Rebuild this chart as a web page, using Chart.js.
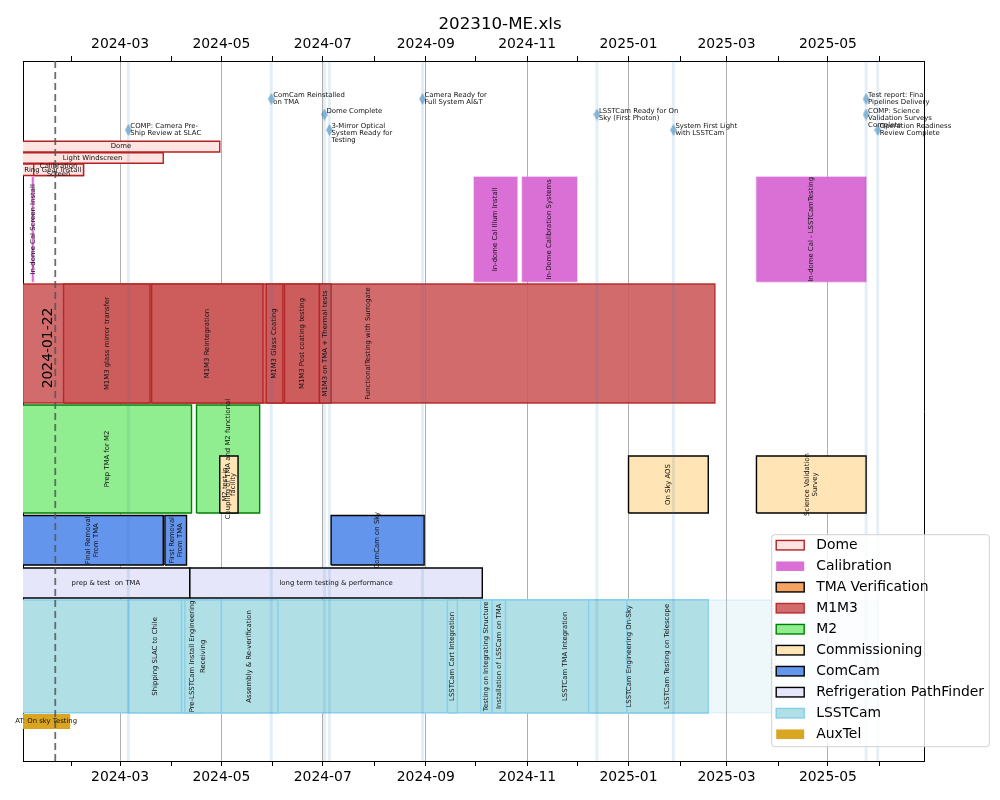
<!DOCTYPE html>
<html>
<head>
<meta charset="utf-8">
<script src="https://cdn.jsdelivr.net/npm/chart.js@4.4.1/dist/chart.umd.min.js"></script>
<style>
html,body{margin:0;padding:0;background:#ffffff;}
#wrap{width:1000px;height:800px;}
</style>
</head>
<body>
<div id="wrap"><canvas id="c" width="1000" height="800"></canvas></div>
<script>
// ---------------- DATA ----------------
const chartTitle = '202310-ME.xls';
const axisStart = '2024-01-02T14:00';
const axisEnd = '2025-06-27T20:00';
const yMin = 0, yMax = 70;

// month ticks (every month is a tick, labelled ones are the major ticks)
const monthTicks = ['2024-02','2024-03','2024-04','2024-05','2024-06','2024-07','2024-08','2024-09','2024-10','2024-11','2024-12',
                    '2025-01','2025-02','2025-03','2025-04','2025-05','2025-06'];
const majorTickLabels = ['2024-03','2024-05','2024-07','2024-09','2024-11','2025-01','2025-03','2025-05'];

const highlightDate = '2024-01-22';
const highlightLabelY = 41.3;

const groupNames = ['Dome','Calibration','TMA Verification','M1M3','M2','Commissioning','ComCam','Refrigeration PathFinder','LSSTCam','AuxTel'];

const taskNames = [
  'Dome','Light Windscreen','Ring Gear Install','Calibration\nScreen',
  'In-dome Cal Screen Install','In-dome Cal Illum Install','In-Dome Calibration Systems','In-dome Cal - LSSTCamTesting',
  'FunctionalTesting with Surrogate','M1M3 glass mirror transfer','M1M3 Reintegration','M1M3 Glass Coating','M1M3 Post coating testing','M1M3 on TMA + Thermal tests',
  'Prep TMA for M2','Coupling of TMA and M2 functional',
  'M2 test in\nfacility','On Sky AOS','Science Validation\nSurvey',
  'Final Removal\nFrom TMA','First Removal\nFrom TMA','ComCam on Sky',
  'prep & test  on TMA','long term testing & performance',
  '','Shipping SLAC to Chile','Pre-LSSTCam Install Engineering','Receiving','Assembly & Re-verification','LSSTCam Cart Integration',
  'Testing on Integrating Structure','Installation of LSSCam on TMA','LSSTCam TMA Integration','LSSTCam Engineering On-Sky','LSSTCam Testing on Telescope','LSSTCam SV',
  'AT: On sky Testing'
];
const taskGroups = [
  'Dome','Dome','Dome','Dome',
  'Calibration','Calibration','Calibration','Calibration',
  'M1M3','M1M3','M1M3','M1M3','M1M3','M1M3',
  'M2','M2',
  'Commissioning','Commissioning','Commissioning',
  'ComCam','ComCam','ComCam',
  'Refrigeration PathFinder','Refrigeration PathFinder',
  'LSSTCam','LSSTCam','LSSTCam','LSSTCam','LSSTCam','LSSTCam','LSSTCam','LSSTCam','LSSTCam','LSSTCam','LSSTCam','LSSTCam',
  'AuxTel'
];
const taskStarts = [
  '2024-01-02','2024-01-02','2024-01-02','2024-01-09',
  '2024-01-08','2024-09-30','2024-10-29','2025-03-19',
  '2024-01-02','2024-01-27','2024-03-20','2024-05-28','2024-06-08','2024-06-29',
  '2024-01-02','2024-04-16',
  '2024-04-30','2025-01-01','2025-03-19',
  '2024-01-02','2024-03-28','2024-07-06',
  '2024-01-02','2024-04-12',
  '2024-01-02','2024-03-06','2024-04-07','2024-04-09','2024-05-01','2024-09-14',
  '2024-10-04','2024-10-11','2024-10-19','2024-12-08','2024-12-31','2025-01-26',
  '2024-01-02'
];
const taskEnds = [
  '2024-04-30','2024-03-27','2024-02-08','2024-02-08',
  '2024-01-09','2024-10-26','2024-12-01','2025-05-24',
  '2025-02-22','2024-03-19','2024-05-26','2024-06-07','2024-06-29','2024-07-06',
  '2024-04-13','2024-05-24',
  '2024-05-11','2025-02-18','2025-05-24',
  '2024-03-27','2024-04-10','2024-08-31',
  '2024-04-12','2024-10-05',
  '2025-02-18','2024-04-07','2024-04-20','2024-05-01','2024-06-04','2024-09-20',
  '2024-10-11','2024-10-19','2024-12-30','2025-01-26','2025-02-18','2025-05-31',
  '2024-01-31'
];
const taskRowBottom = [
  60.9,59.77,58.55,58.55,
  47.93,47.93,47.93,47.93,
  35.8,35.8,35.8,35.8,35.8,35.8,
  24.8,24.8,
  24.8,24.8,24.8,
  19.6,19.6,19.6,
  16.3,16.3,
  4.83,4.83,4.83,4.83,4.83,4.83,4.83,4.83,4.83,4.83,4.83,4.83,
  3.2
];
const taskRowHeight = [
  1.07,1.06,1.15,1.15,
  10.47,10.47,10.47,10.47,
  11.9,11.9,11.9,11.9,11.9,11.9,
  10.8,10.8,
  5.7,5.7,5.7,
  4.95,4.95,4.95,
  3.0,3.0,
  11.27,11.27,11.27,11.27,11.27,11.27,11.27,11.27,11.27,11.27,11.27,11.27,
  1.5
];
const taskTentative = [
  false,false,false,false,
  false,false,false,false,
  false,false,false,false,false,false,
  false,false,
  false,false,false,
  false,false,false,
  false,false,
  false,false,false,false,false,false,false,false,false,false,false,true,
  false
];

const milestoneNames = [
  'COMP: Camera Pre-\nShip Review at SLAC',
  'ComCam Reinstalled\non TMA',
  'Dome Complete',
  '3-Mirror Optical\nSystem Ready for\nTesting',
  'Camera Ready for\nFull System AI&T',
  'LSSTCam Ready for On\nSky (First Photon)',
  'System First Light\nwith LSSTCam',
  'Test report: Final\nPipelines Delivery',
  'COMP: Science\nValidation Surveys\nComplete',
  'Operation Readiness\nReview Complete'
];
const milestoneDates = ['2024-03-06','2024-05-31','2024-07-02','2024-07-05','2024-08-30','2024-12-13','2025-01-28','2025-05-24','2025-05-24','2025-05-31'];
const milestoneY = [63.1,66.2,64.65,63.1,66.2,64.65,63.1,66.2,64.65,63.1];

// ---------------- STYLES ----------------
const FONT = 'DejaVu Sans';
const groupStyle = {
  'Dome':                     {fill:'#ffe4e1', edge:'#b22222', vertical:false},
  'Calibration':              {fill:'#da70d6', edge:'rgba(218,112,214,0.45)', vertical:true, noEdgeInLegend:true},
  'TMA Verification':         {fill:'#f4a460', edge:'#000000', vertical:true},
  'M1M3':                     {fill:'rgba(205,92,92,0.9)', edge:'rgba(178,34,34,0.9)', vertical:true},
  'M2':                       {fill:'#90ee90', edge:'#008000', vertical:true},
  'Commissioning':            {fill:'#ffe4b5', edge:'#000000', vertical:true},
  'ComCam':                   {fill:'#6495ed', edge:'#000000', vertical:true},
  'Refrigeration PathFinder': {fill:'#e6e6fa', edge:'#000000', vertical:false},
  'LSSTCam':                  {fill:'#b0e0e6', edge:'#87ceeb', vertical:true},
  'AuxTel':                   {fill:'#daa520', edge:'rgba(0,0,0,0)', vertical:false, noEdgeInLegend:true}
};
const tentativeFill = 'rgba(176,224,230,0.22)';
const tentativeEdge = 'rgba(135,206,235,0.2)';

// ---------------- HELPERS ----------------
function t(s){
  if (s.length === 7) s = s + '-01';
  if (s.length === 10) s = s + 'T00:00';
  return Date.parse(s + ':00Z');
}
const monthValues = monthTicks.map(t);
const majorValues = majorTickLabels.map(t);
function isMajor(v){ return majorValues.indexOf(v) >= 0; }
function monthLabel(v){
  const i = majorValues.indexOf(v);
  return i >= 0 ? majorTickLabels[i] : '';
}

// ---------------- DATASETS ----------------
const datasets = [];
taskNames.forEach((name, i) => {
  const st = groupStyle[taskGroups[i]];
  const x0 = t(taskStarts[i]), x1 = t(taskEnds[i]);
  const y0 = taskRowBottom[i], y1 = taskRowBottom[i] + taskRowHeight[i];
  datasets.push({
    type: 'line',
    label: name,
    data: [{x:x0,y:y0},{x:x1,y:y0},{x:x1,y:y1},{x:x0,y:y1},{x:x0,y:y0}],
    fill: 'shape',
    backgroundColor: taskTentative[i] ? tentativeFill : st.fill,
    borderColor: taskTentative[i] ? tentativeEdge : st.edge,
    borderWidth: 1.4,
    borderJoinStyle: 'miter',
    pointRadius: 0, pointHoverRadius: 0, pointHitRadius: 0,
    tension: 0,
    clip: 0,
    order: 1000 - i
  });
});

// milestone vertical lines
const msLineData = [];
milestoneDates.forEach(d => {
  msLineData.push({x:t(d), y:yMin}, {x:t(d), y:yMax}, {x:t(d), y:null});
});
datasets.push({
  type:'line', label:'_milestoneLines', data: msLineData,
  borderColor:'rgba(31,119,180,0.12)', borderWidth:3, fill:false,
  pointRadius:0, pointHoverRadius:0, spanGaps:false, order: 3, clip: 0
});

// highlight dashed line
datasets.push({
  type:'line', label:'_highlight',
  data:[{x:t(highlightDate), y:yMin},{x:t(highlightDate), y:yMax}],
  borderColor:'rgba(85,85,85,0.85)', borderWidth:1.8, borderDash:[7,4], fill:false,
  pointRadius:0, pointHoverRadius:0, order: 2, clip: 0
});

// milestone diamonds
function makeDiamond(){
  const c = document.createElement('canvas');
  c.width = 7; c.height = 12;
  const g = c.getContext('2d');
  g.fillStyle = 'rgba(31,119,180,0.5)';
  g.beginPath(); g.moveTo(3.5,0); g.lineTo(7,6); g.lineTo(3.5,12); g.lineTo(0,6); g.closePath(); g.fill();
  return c;
}
const diamond = makeDiamond();
datasets.push({
  type:'line', label:'_milestones',
  data: milestoneDates.map((d,i) => ({x:t(d), y:milestoneY[i]})),
  showLine:false, pointStyle: diamond, pointRadius: 5, pointHoverRadius: 5, order: 1, clip: false
});

// ---------------- PLUGINS ----------------
const labelPlugin = {
  id: 'taskLabels',
  afterDatasetsDraw(chart){
    const ctx = chart.ctx, xs = chart.scales.x, ys = chart.scales.y;
    ctx.save();
    ctx.font = '6.9px "' + FONT + '"';
    ctx.textAlign = 'center';
    ctx.textBaseline = 'middle';
    taskNames.forEach((name, i) => {
      if (!name) return;
      const st = groupStyle[taskGroups[i]];
      const cx = xs.getPixelForValue((t(taskStarts[i]) + t(taskEnds[i])) / 2);
      const cy = ys.getPixelForValue(taskRowBottom[i] + taskRowHeight[i] / 2);
      const lines = name.split('\n');
      const lh = 8;
      ctx.fillStyle = taskTentative[i] ? 'rgba(0,0,0,0.2)' : '#111';
      ctx.save();
      ctx.translate(cx, cy);
      if (st.vertical) ctx.rotate(-Math.PI / 2);
      lines.forEach((ln, k) => {
        ctx.fillText(ln, 0, (k - (lines.length - 1) / 2) * lh);
      });
      ctx.restore();
    });
    // milestone labels
    ctx.textAlign = 'left';
    ctx.fillStyle = '#111';
    milestoneNames.forEach((name, i) => {
      const px = xs.getPixelForValue(t(milestoneDates[i]));
      const py = ys.getPixelForValue(milestoneY[i]);
      name.split('\n').forEach((ln, k) => ctx.fillText(ln, px + 2, py - 3.5 + k * 7));
    });
    // highlight date label
    ctx.font = '13.9px "' + FONT + '"';
    ctx.fillStyle = '#000';
    ctx.textAlign = 'center';
    ctx.save();
    ctx.translate(xs.getPixelForValue(t(highlightDate)) - 7, ys.getPixelForValue(highlightLabelY));
    ctx.rotate(-Math.PI / 2);
    ctx.fillText(highlightDate, 0, 0);
    ctx.restore();
    ctx.restore();
  }
};

const legendPlugin = {
  id: 'boxLegend',
  afterDraw(chart){
    const ctx = chart.ctx, a = chart.chartArea;
    const w = 217.6, h = 212;
    const right = a.right + 65.3, bottom = a.bottom - 14.3;
    const left = right - w, top = bottom - h;
    ctx.save();
    ctx.beginPath();
    if (ctx.roundRect) ctx.roundRect(left, top, w, h, 3); else ctx.rect(left, top, w, h);
    ctx.fillStyle = 'rgba(255,255,255,0.8)';
    ctx.fill();
    ctx.strokeStyle = 'rgba(204,204,204,0.9)';
    ctx.lineWidth = 1;
    ctx.stroke();
    ctx.font = '13.9px "' + FONT + '"';
    ctx.textBaseline = 'middle';
    ctx.textAlign = 'left';
    groupNames.forEach((g, i) => {
      const st = groupStyle[g];
      const cy = top + 10.5 + i * 21;
      const sx = left + 4.5, sw = 28, sh = 9.5;
      ctx.fillStyle = st.fill;
      ctx.fillRect(sx, cy - sh / 2, sw, sh);
      if (!st.noEdgeInLegend) {
        ctx.strokeStyle = st.edge;
        ctx.lineWidth = 1.4;
        ctx.strokeRect(sx, cy - sh / 2, sw, sh);
      }
      ctx.fillStyle = '#000';
      ctx.fillText(g, left + 44.5, cy + 0.5);
    });
    ctx.restore();
  }
};

// ---------------- CHART ----------------
Chart.defaults.font.family = FONT;
const titleFontSize = 16.7, titlePadTop = 14.5;
const titleBlock = titleFontSize * 1.2 + titlePadTop;

function xAxis(position){
  const bottom = position === 'bottom';
  return {
    type: 'linear',
    position: position,
    min: t(axisStart),
    max: t(axisEnd),
    afterBuildTicks: s => { s.ticks = monthValues.map(v => ({value: v})); },
    ticks: {
      autoSkip: false, maxRotation: 0, minRotation: 0,
      callback: v => monthLabel(v),
      color: '#000',
      font: {size: 13.9, family: FONT},
      padding: 3
    },
    grid: {
      display: true,
      drawOnChartArea: bottom,
      color: c => (c.tick && isMajor(c.tick.value)) ? 'rgba(176,176,176,1)' : 'rgba(0,0,0,0)',
      lineWidth: 1,
      tickColor: '#000',
      tickLength: 5,
      tickWidth: 1
    },
    border: {display: true, color: '#000', width: 1},
    z: 1,
    afterFit: s => { s.height = bottom ? 39 : (61 - titleBlock); }
  };
}
function yAxis(position, width){
  return {
    type: 'linear', position: position, min: yMin, max: yMax,
    ticks: {display: false},
    grid: {display: false},
    border: {display: true, color: '#000', width: 1},
    afterFit: s => { s.width = width; }
  };
}

new Chart(document.getElementById('c'), {
  type: 'line',
  data: {datasets: datasets},
  options: {
    responsive: false,
    animation: false,
    devicePixelRatio: 1,
    layout: {padding: 0},
    events: [],
    plugins: {
      legend: {display: false},
      tooltip: {enabled: false},
      title: {
        display: true, text: chartTitle, color: '#000',
        font: {size: titleFontSize, family: FONT, weight: 'normal', lineHeight: 1.2},
        padding: {top: titlePadTop, bottom: 0}
      }
    },
    scales: {
      x: xAxis('bottom'),
      xTop: xAxis('top'),
      y: yAxis('left', 23),
      yRight: yAxis('right', 76)
    }
  },
  plugins: [labelPlugin, legendPlugin]
});
</script>
</body>
</html>
